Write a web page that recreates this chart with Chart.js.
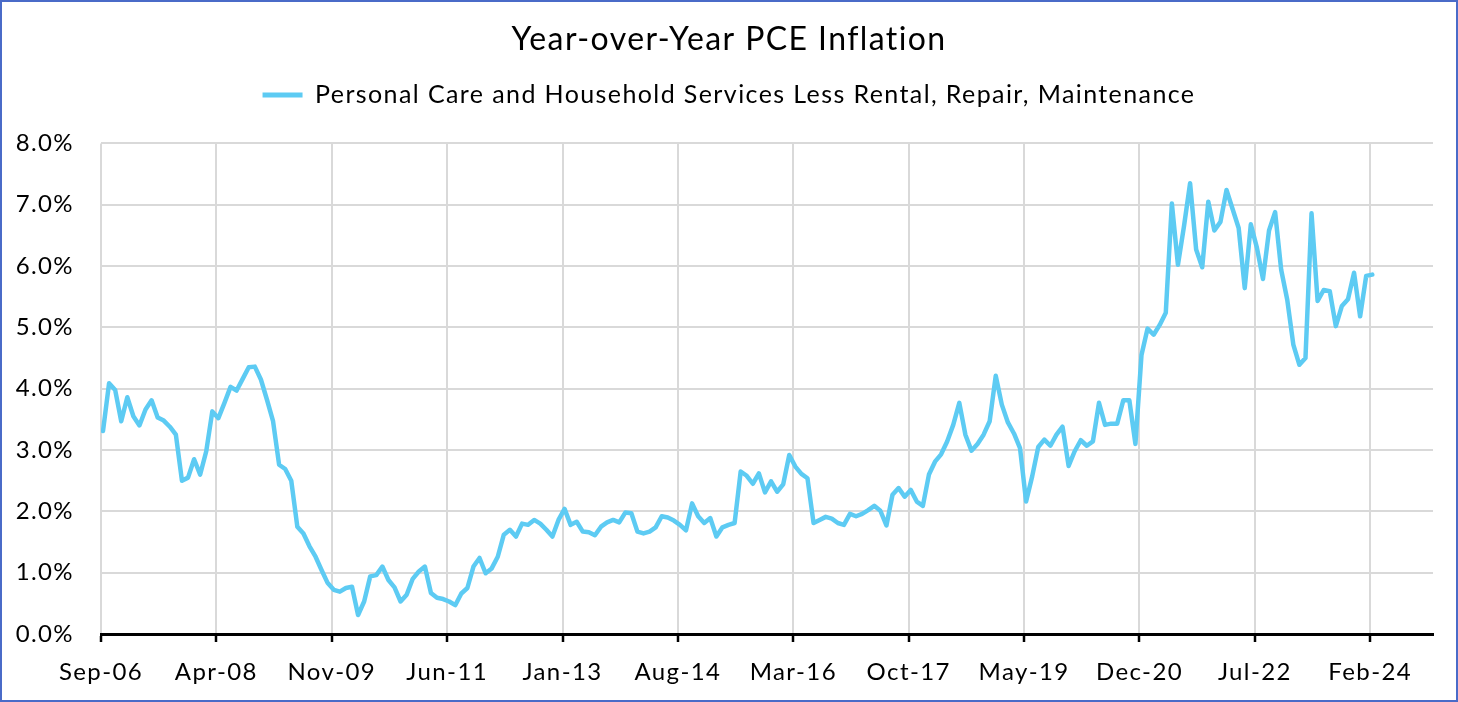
<!DOCTYPE html>
<html>
<head>
<meta charset="utf-8">
<script src="https://cdn.jsdelivr.net/npm/chart.js@4.4.1/dist/chart.umd.min.js"></script>
<style>
  html, body { margin: 0; padding: 0; background: #ffffff; }
  canvas { display: block; }
</style>
</head>
<body>
<canvas id="chart" width="1458" height="702"></canvas>
<script>
// ---- Chart text ----
const chartTitle = 'Year-over-Year PCE Inflation';
const seriesName = 'Personal Care and Household Services Less Rental, Repair, Maintenance';

// ---- Categories: monthly, Sep-06 .. Feb-24 ----
const monthNames = ['Jan','Feb','Mar','Apr','May','Jun','Jul','Aug','Sep','Oct','Nov','Dec'];
const firstYear = 2006, firstMonth = 8; // Sep 2006
const monthCount = 210;
const months = [];
for (let i = 0; i < monthCount; i++) {
  const m = firstMonth + i;
  months.push(monthNames[m % 12] + '-' + String((firstYear + Math.floor(m / 12)) % 100).padStart(2, '0'));
}

// ---- Tick labels (every 19 months) ----
const tickLabels = ['Sep-06','Apr-08','Nov-09','Jun-11','Jan-13','Aug-14','Mar-16','Oct-17','May-19','Dec-20','Jul-22','Feb-24'];
const tickMonthIndex = [0, 19, 38, 57, 76, 95, 114, 133, 152, 171, 190, 209];
const yTickValues = [0, 1, 2, 3, 4, 5, 6, 7, 8];

// ---- Series values (% y/y) ----
const pceYoY = [
  3.31, 4.09, 3.98, 3.47, 3.86, 3.55, 3.40, 3.66, 3.81, 3.53, 3.48, 3.38, 3.25, 2.50, 2.55, 2.85,
  2.60, 2.98, 3.63, 3.52, 3.77, 4.03, 3.97, 4.16, 4.35, 4.36, 4.15, 3.82, 3.47, 2.76, 2.69, 2.50,
  1.75, 1.64, 1.43, 1.26, 1.04, 0.83, 0.72, 0.69, 0.75, 0.77, 0.31, 0.53, 0.94, 0.96, 1.10, 0.88,
  0.76, 0.53, 0.64, 0.90, 1.02, 1.10, 0.67, 0.59, 0.57, 0.53, 0.47, 0.66, 0.75, 1.10, 1.24, 0.99,
  1.07, 1.26, 1.62, 1.70, 1.59, 1.80, 1.78, 1.86, 1.80, 1.70, 1.59, 1.86, 2.04, 1.78, 1.83, 1.67,
  1.66, 1.61, 1.75, 1.82, 1.86, 1.82, 1.98, 1.97, 1.67, 1.64, 1.67, 1.74, 1.92, 1.90, 1.85, 1.78,
  1.69, 2.13, 1.92, 1.81, 1.89, 1.59, 1.74, 1.78, 1.81, 2.65, 2.58, 2.45, 2.62, 2.31, 2.49, 2.32,
  2.44, 2.92, 2.73, 2.61, 2.54, 1.81, 1.86, 1.91, 1.88, 1.81, 1.78, 1.96, 1.92, 1.96, 2.02, 2.09,
  2.01, 1.77, 2.27, 2.38, 2.24, 2.35, 2.16, 2.09, 2.60, 2.81, 2.93, 3.14, 3.41, 3.77, 3.25, 2.99,
  3.10, 3.25, 3.47, 4.21, 3.74, 3.45, 3.27, 3.03, 2.16, 2.57, 3.05, 3.17, 3.07, 3.25, 3.38, 2.74,
  2.98, 3.16, 3.07, 3.14, 3.77, 3.41, 3.43, 3.43, 3.81, 3.81, 3.10, 4.55, 4.98, 4.88, 5.04, 5.24,
  7.02, 6.02, 6.65, 7.35, 6.27, 5.98, 7.05, 6.58, 6.72, 7.24, 6.93, 6.62, 5.64, 6.68, 6.30, 5.79,
  6.58, 6.88, 5.94, 5.45, 4.72, 4.39, 4.50, 6.86, 5.43, 5.61, 5.59, 5.02, 5.35, 5.46, 5.89, 5.18,
  5.84, 5.86
];

// ---- Styling ----
const lineColor = '#5DCBF3';
const gridColor = '#D9D9D9';
const frameColor = '#4A6BC8';
const fontFamily = 'Lato, "Open Sans", sans-serif';
const textSpacing = '1.4px';
const tickShift = 0.33; // ticks sit a third of a month before the data points

const points = pceYoY.map((v, i) => ({ x: i, y: v }));

const spacingPlugin = {
  id: 'spacing',
  afterInit(chart) { chart.ctx.letterSpacing = textSpacing; },
  beforeUpdate(chart) { chart.ctx.letterSpacing = textSpacing; },
  beforeDraw(chart) { chart.ctx.letterSpacing = textSpacing; }
};

const framePlugin = {
  id: 'frame',
  afterDraw(chart) {
    const c = chart.ctx;
    c.save();
    c.strokeStyle = frameColor;
    c.lineWidth = 2;
    c.strokeRect(1, 1, chart.width - 2, chart.height - 2);
    c.restore();
  }
};

new Chart(document.getElementById('chart'), {
  type: 'line',
  data: {
    labels: months,
    datasets: [{
      label: seriesName,
      data: points,
      borderColor: lineColor,
      backgroundColor: lineColor,
      borderWidth: 4.5,
      pointRadius: 0,
      tension: 0,
      borderJoinStyle: 'round',
      borderCapStyle: 'round',
      fill: false
    }]
  },
  options: {
    responsive: false,
    animation: false,
    layout: { padding: 0 },
    plugins: {
      title: {
        display: true,
        text: chartTitle,
        color: '#000000',
        font: { family: fontFamily, size: 32, weight: 'normal' },
        padding: { top: 20, bottom: 14 }
      },
      legend: {
        display: true,
        position: 'top',
        labels: {
          color: '#000000',
          font: { family: fontFamily, size: 25 },
          boxWidth: 40,
          boxHeight: 5,
          padding: 10,
          generateLabels: (chart) => chart.data.datasets.map((ds, i) => ({
            text: ds.label,
            fillStyle: ds.borderColor,
            strokeStyle: ds.borderColor,
            lineWidth: 0,
            hidden: false,
            datasetIndex: i,
            fontColor: '#000000'
          }))
        }
      },
      tooltip: { enabled: false }
    },
    scales: {
      x: {
        type: 'linear',
        position: 'bottom',
        min: -tickShift,
        max: 219,
        afterBuildTicks: (axis) => { axis.ticks = tickMonthIndex.map(v => ({ value: v - tickShift })); },
        afterFit: (s) => { s.height = 68; },
        ticks: {
          autoSkip: false,
          maxRotation: 0,
          color: '#000000',
          font: { family: fontFamily, size: 24 },
          padding: 16,
          callback: (value, index) => tickLabels[index]
        },
        grid: { color: gridColor, lineWidth: 2, tickColor: '#000000', tickLength: 8, tickWidth: 2.5 },
        border: { color: '#000000', width: 3 }
      },
      y: {
        type: 'linear',
        position: 'left',
        min: 0,
        max: 8,
        afterBuildTicks: (axis) => { axis.ticks = yTickValues.map(v => ({ value: v })); },
        afterFit: (s) => { s.width = 101; },
        ticks: {
          color: '#000000',
          font: { family: fontFamily, size: 24 },
          padding: 27,
          callback: (v) => Number(v).toFixed(1) + '%'
        },
        grid: { color: gridColor, lineWidth: 2, drawTicks: false },
        border: { display: false }
      },
      padTop: {
        type: 'linear', position: 'top', display: true,
        grid: { display: false }, ticks: { display: false }, border: { display: false },
        afterFit: (s) => { s.height = 26; }
      },
      padRight: {
        type: 'linear', position: 'right', display: true,
        grid: { display: false }, ticks: { display: false }, border: { display: false },
        afterFit: (s) => { s.width = 25; }
      }
    }
  },
  plugins: [spacingPlugin, framePlugin]
});
</script>
</body>
</html>
